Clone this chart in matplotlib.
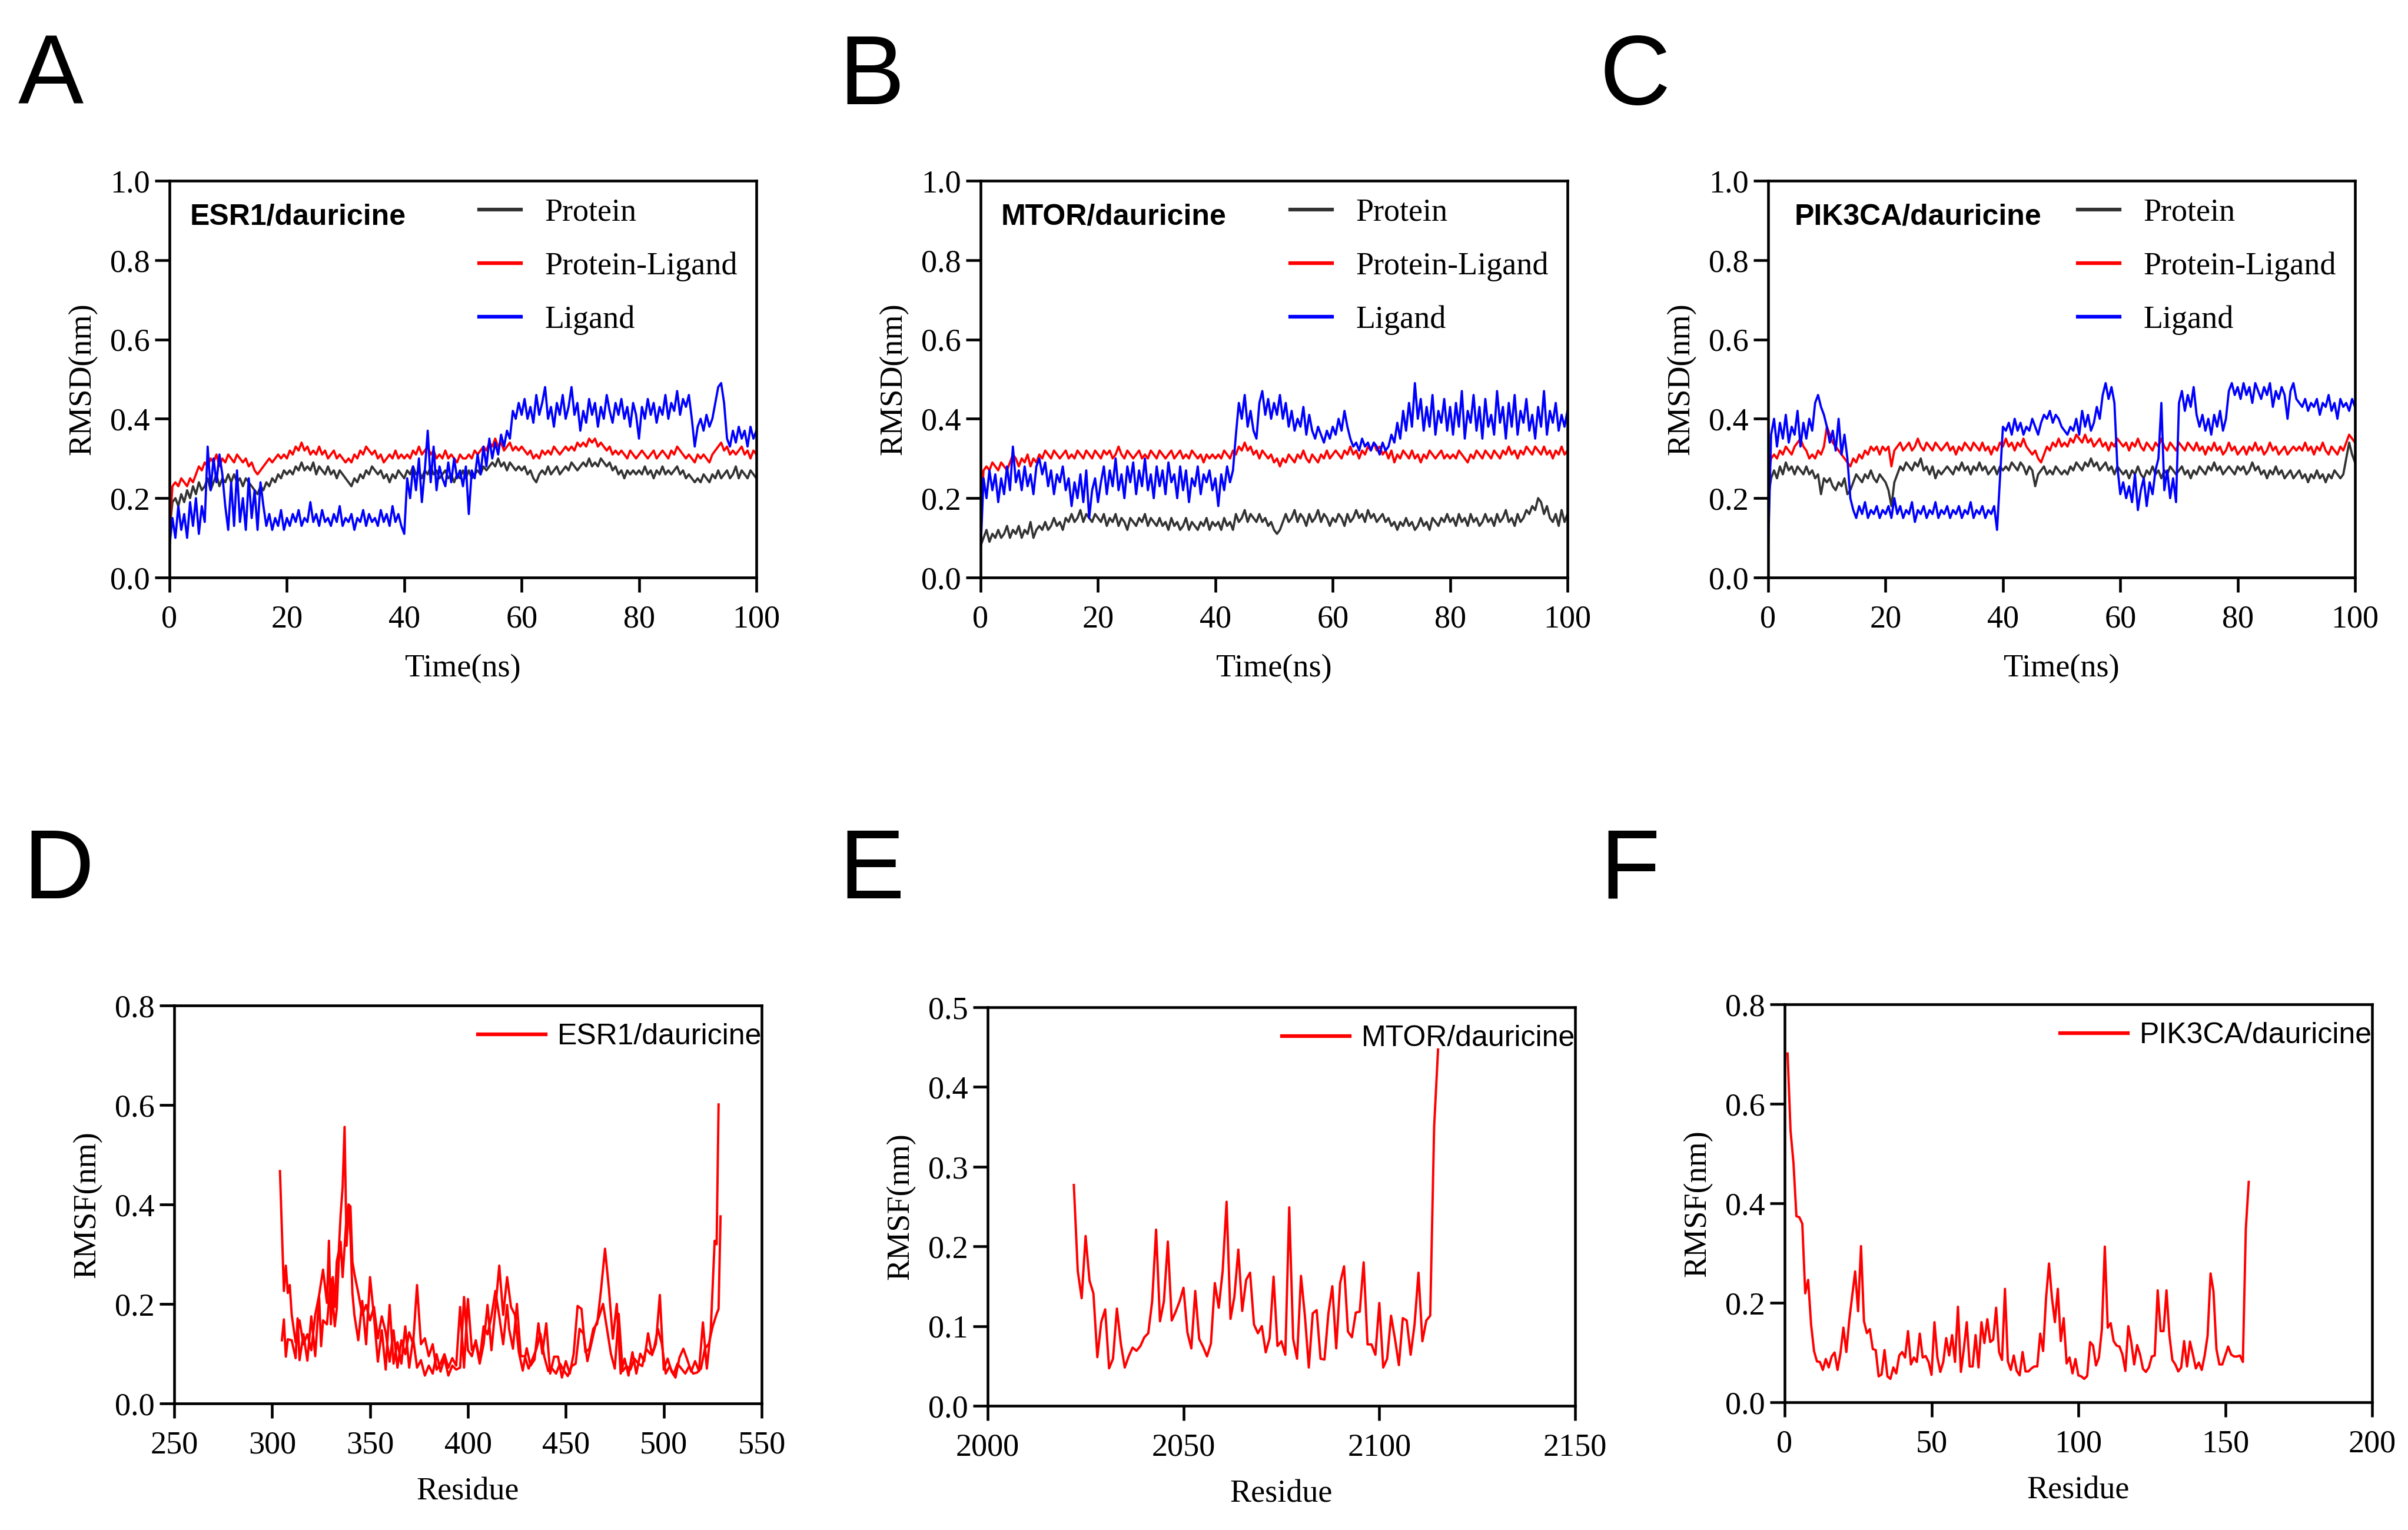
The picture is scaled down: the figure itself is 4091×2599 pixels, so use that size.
import numpy as np
import matplotlib
matplotlib.use("Agg")
import matplotlib.pyplot as plt
from matplotlib.lines import Line2D
from matplotlib.ticker import FormatStrFormatter, MultipleLocator

plt.rcParams['font.family'] = ['Liberation Serif', 'DejaVu Serif']

# ---------------- RMSD data (0.5 ns sampling, 0-100 ns) ----------------
esr1_protein = [0.12,0.19,0.20,0.18,0.21,0.19,0.22,0.20,0.23,0.21,0.24,0.22,0.23,0.25,0.22,0.24,0.26,0.23,0.25,0.24,0.26,
    0.24,0.26,0.24,0.25,0.23,0.25,0.24,0.23,0.22,0.21,0.23,0.22,0.24,0.23,0.25,0.24,0.26,0.25,0.27,0.26,
    0.27,0.26,0.28,0.27,0.29,0.27,0.28,0.27,0.29,0.26,0.28,0.27,0.26,0.28,0.26,0.27,0.25,0.27,0.26,0.25,
    0.24,0.23,0.25,0.24,0.26,0.25,0.27,0.26,0.28,0.27,0.26,0.27,0.25,0.26,0.24,0.26,0.25,0.27,0.26,0.25,
    0.27,0.26,0.28,0.26,0.27,0.25,0.27,0.26,0.28,0.26,0.27,0.25,0.26,0.27,0.25,0.26,0.24,0.26,0.25,0.27,
    0.25,0.27,0.25,0.26,0.27,0.26,0.28,0.27,0.28,0.29,0.28,0.30,0.28,0.29,0.27,0.29,0.28,0.27,0.28,0.27,
    0.28,0.26,0.27,0.25,0.24,0.26,0.27,0.26,0.28,0.26,0.27,0.28,0.26,0.27,0.28,0.27,0.29,0.28,0.27,0.28,
    0.29,0.28,0.30,0.28,0.29,0.28,0.30,0.29,0.28,0.29,0.27,0.28,0.26,0.27,0.25,0.27,0.26,0.27,0.26,0.27,
    0.26,0.28,0.26,0.27,0.25,0.27,0.26,0.28,0.26,0.27,0.26,0.27,0.28,0.26,0.27,0.25,0.26,0.25,0.24,0.25,
    0.24,0.26,0.25,0.24,0.26,0.25,0.27,0.25,0.26,0.27,0.25,0.26,0.28,0.25,0.27,0.26,0.25,0.27,0.26,0.25]
esr1_complex = [0.12,0.23,0.24,0.23,0.25,0.24,0.23,0.25,0.24,0.26,0.28,0.27,0.29,0.28,0.30,0.29,0.31,0.28,0.30,0.29,0.31,
    0.30,0.29,0.31,0.30,0.29,0.30,0.28,0.29,0.27,0.26,0.27,0.28,0.29,0.30,0.29,0.30,0.31,0.30,0.31,0.30,
    0.32,0.31,0.33,0.32,0.34,0.32,0.33,0.31,0.32,0.31,0.33,0.31,0.32,0.30,0.31,0.32,0.30,0.31,0.30,0.29,
    0.30,0.29,0.31,0.30,0.32,0.31,0.33,0.32,0.31,0.32,0.30,0.31,0.29,0.30,0.31,0.30,0.32,0.30,0.31,0.30,
    0.31,0.30,0.32,0.31,0.33,0.31,0.32,0.33,0.31,0.32,0.30,0.31,0.30,0.32,0.30,0.31,0.30,0.29,0.31,0.30,
    0.30,0.31,0.30,0.32,0.31,0.32,0.33,0.32,0.34,0.33,0.35,0.33,0.34,0.32,0.33,0.34,0.32,0.33,0.32,0.33,
    0.32,0.31,0.32,0.30,0.31,0.30,0.32,0.31,0.32,0.31,0.33,0.32,0.31,0.32,0.33,0.32,0.33,0.32,0.34,0.33,
    0.34,0.33,0.35,0.34,0.35,0.33,0.34,0.33,0.32,0.33,0.31,0.32,0.31,0.32,0.31,0.30,0.32,0.31,0.30,0.31,
    0.32,0.31,0.30,0.31,0.32,0.30,0.31,0.32,0.31,0.30,0.32,0.31,0.33,0.32,0.31,0.30,0.31,0.30,0.29,0.31,
    0.30,0.31,0.30,0.29,0.31,0.32,0.33,0.34,0.32,0.33,0.31,0.32,0.31,0.32,0.33,0.31,0.32,0.30,0.32,0.31]
esr1_ligand = [0.08,0.15,0.10,0.18,0.12,0.16,0.10,0.19,0.13,0.20,0.11,0.18,0.14,0.33,0.22,0.30,0.24,0.31,0.26,0.18,0.12,
    0.24,0.13,0.27,0.14,0.20,0.12,0.25,0.15,0.22,0.12,0.24,0.18,0.13,0.16,0.12,0.15,0.13,0.17,0.12,0.15,
    0.13,0.16,0.14,0.17,0.13,0.15,0.14,0.19,0.14,0.16,0.13,0.17,0.14,0.15,0.13,0.16,0.14,0.18,0.13,0.15,
    0.14,0.16,0.12,0.15,0.14,0.17,0.13,0.16,0.14,0.15,0.13,0.17,0.14,0.16,0.13,0.18,0.14,0.16,0.13,0.11,
    0.25,0.20,0.28,0.22,0.30,0.19,0.27,0.37,0.24,0.33,0.22,0.28,0.25,0.23,0.29,0.24,0.30,0.25,0.27,0.23,
    0.28,0.16,0.27,0.25,0.31,0.26,0.33,0.28,0.35,0.30,0.34,0.31,0.36,0.33,0.37,0.35,0.42,0.40,0.44,0.41,
    0.45,0.40,0.43,0.39,0.46,0.41,0.44,0.48,0.40,0.43,0.38,0.44,0.41,0.46,0.40,0.43,0.48,0.41,0.44,0.37,
    0.42,0.39,0.45,0.41,0.44,0.38,0.43,0.40,0.46,0.42,0.39,0.44,0.41,0.45,0.40,0.43,0.38,0.44,0.41,0.35,
    0.43,0.40,0.45,0.41,0.44,0.39,0.43,0.41,0.46,0.40,0.44,0.42,0.47,0.41,0.45,0.43,0.46,0.40,0.33,0.38,
    0.40,0.37,0.41,0.38,0.40,0.44,0.48,0.49,0.44,0.35,0.33,0.37,0.34,0.38,0.35,0.37,0.33,0.38,0.35,0.37]

mtor_protein = [0.08,0.10,0.12,0.09,0.11,0.10,0.12,0.10,0.11,0.13,0.10,0.12,0.11,0.13,0.10,0.12,0.11,0.14,0.10,0.12,0.13,
    0.12,0.14,0.12,0.13,0.15,0.13,0.14,0.12,0.15,0.14,0.16,0.14,0.15,0.17,0.14,0.16,0.15,0.14,0.16,0.15,
    0.14,0.16,0.13,0.15,0.14,0.16,0.13,0.15,0.14,0.12,0.15,0.14,0.13,0.15,0.14,0.16,0.13,0.15,0.14,0.13,
    0.15,0.13,0.14,0.12,0.15,0.13,0.14,0.12,0.13,0.15,0.12,0.14,0.13,0.12,0.14,0.13,0.15,0.12,0.14,0.13,
    0.14,0.12,0.15,0.13,0.14,0.12,0.16,0.14,0.15,0.17,0.14,0.16,0.15,0.14,0.16,0.14,0.15,0.13,0.14,0.12,
    0.11,0.12,0.14,0.16,0.14,0.15,0.17,0.14,0.16,0.15,0.13,0.16,0.14,0.15,0.17,0.14,0.16,0.15,0.13,0.15,
    0.14,0.16,0.15,0.13,0.16,0.14,0.15,0.17,0.15,0.16,0.14,0.17,0.15,0.16,0.14,0.15,0.16,0.14,0.15,0.13,
    0.14,0.12,0.14,0.13,0.15,0.13,0.14,0.12,0.13,0.15,0.13,0.14,0.12,0.15,0.14,0.13,0.15,0.14,0.16,0.14,
    0.15,0.13,0.16,0.14,0.15,0.13,0.16,0.14,0.15,0.13,0.14,0.16,0.14,0.15,0.13,0.16,0.14,0.15,0.17,0.14,
    0.15,0.13,0.16,0.14,0.15,0.17,0.16,0.18,0.17,0.20,0.19,0.16,0.18,0.15,0.14,0.16,0.13,0.17,0.14,0.16]
mtor_complex = [0.15,0.27,0.28,0.27,0.29,0.28,0.27,0.29,0.28,0.27,0.29,0.31,0.30,0.28,0.30,0.29,0.31,0.28,0.30,0.29,0.31,
    0.30,0.32,0.31,0.30,0.32,0.31,0.30,0.31,0.32,0.30,0.31,0.30,0.32,0.31,0.30,0.32,0.31,0.30,0.32,0.31,
    0.30,0.32,0.31,0.32,0.30,0.31,0.33,0.31,0.30,0.32,0.31,0.30,0.31,0.32,0.30,0.31,0.30,0.32,0.31,0.30,
    0.32,0.31,0.30,0.31,0.32,0.30,0.31,0.32,0.30,0.31,0.30,0.32,0.31,0.30,0.31,0.29,0.31,0.30,0.31,0.30,
    0.31,0.30,0.32,0.31,0.30,0.32,0.31,0.33,0.32,0.34,0.32,0.33,0.31,0.32,0.30,0.32,0.31,0.30,0.31,0.29,
    0.30,0.28,0.30,0.29,0.31,0.30,0.29,0.31,0.30,0.32,0.30,0.29,0.31,0.30,0.29,0.31,0.30,0.32,0.30,0.31,
    0.32,0.31,0.30,0.32,0.31,0.33,0.31,0.32,0.30,0.32,0.31,0.33,0.32,0.34,0.32,0.33,0.31,0.32,0.30,0.32,
    0.29,0.31,0.30,0.32,0.31,0.30,0.32,0.30,0.31,0.29,0.31,0.30,0.32,0.31,0.30,0.31,0.32,0.30,0.31,0.30,
    0.31,0.30,0.32,0.31,0.30,0.29,0.31,0.30,0.32,0.31,0.30,0.32,0.31,0.30,0.32,0.31,0.30,0.32,0.31,0.33,
    0.31,0.32,0.30,0.32,0.31,0.33,0.32,0.31,0.33,0.32,0.31,0.33,0.31,0.32,0.30,0.32,0.31,0.33,0.31,0.32]
mtor_ligand = [0.07,0.25,0.20,0.27,0.22,0.26,0.19,0.25,0.21,0.28,0.22,0.33,0.24,0.27,0.22,0.28,0.23,0.26,0.21,0.28,0.30,
    0.26,0.29,0.23,0.27,0.21,0.26,0.24,0.28,0.22,0.25,0.18,0.24,0.20,0.26,0.19,0.27,0.15,0.22,0.25,0.19,
    0.24,0.28,0.21,0.27,0.23,0.30,0.22,0.26,0.20,0.28,0.24,0.29,0.21,0.27,0.23,0.30,0.22,0.26,0.20,0.28,
    0.23,0.27,0.21,0.29,0.24,0.26,0.20,0.28,0.22,0.27,0.19,0.25,0.23,0.28,0.21,0.26,0.24,0.27,0.22,0.25,
    0.18,0.26,0.22,0.28,0.24,0.27,0.36,0.44,0.40,0.46,0.38,0.42,0.37,0.35,0.44,0.47,0.41,0.45,0.40,0.44,
    0.41,0.46,0.40,0.44,0.38,0.42,0.37,0.40,0.38,0.43,0.36,0.41,0.37,0.35,0.38,0.36,0.34,0.37,0.35,0.38,
    0.36,0.40,0.37,0.42,0.38,0.35,0.33,0.34,0.32,0.35,0.33,0.34,0.32,0.34,0.33,0.31,0.34,0.32,0.33,0.36,
    0.34,0.39,0.35,0.42,0.37,0.44,0.38,0.49,0.40,0.45,0.37,0.43,0.38,0.46,0.36,0.42,0.39,0.45,0.37,0.43,
    0.36,0.44,0.38,0.47,0.35,0.42,0.39,0.46,0.37,0.43,0.35,0.45,0.38,0.41,0.36,0.47,0.39,0.43,0.35,0.44,
    0.38,0.46,0.36,0.42,0.39,0.45,0.37,0.41,0.35,0.43,0.38,0.47,0.36,0.42,0.39,0.44,0.37,0.41,0.38,0.42]

pik3ca_protein = [0.20,0.25,0.27,0.25,0.28,0.26,0.29,0.27,0.28,0.26,0.28,0.27,0.26,0.28,0.26,0.27,0.25,0.26,0.21,0.25,0.24,
    0.25,0.23,0.22,0.24,0.23,0.25,0.21,0.22,0.24,0.26,0.25,0.24,0.26,0.25,0.27,0.25,0.24,0.26,0.25,0.24,
    0.22,0.18,0.24,0.26,0.28,0.27,0.29,0.28,0.27,0.29,0.28,0.30,0.27,0.28,0.26,0.28,0.25,0.27,0.26,0.27,
    0.28,0.27,0.26,0.28,0.27,0.29,0.27,0.28,0.26,0.28,0.27,0.29,0.27,0.28,0.26,0.27,0.28,0.26,0.28,0.27,
    0.28,0.27,0.29,0.28,0.27,0.29,0.28,0.26,0.28,0.27,0.23,0.26,0.27,0.28,0.26,0.27,0.26,0.28,0.27,0.26,
    0.27,0.26,0.28,0.27,0.29,0.28,0.27,0.29,0.28,0.30,0.28,0.29,0.27,0.28,0.29,0.27,0.28,0.26,0.28,0.27,
    0.26,0.27,0.25,0.27,0.26,0.28,0.26,0.25,0.27,0.26,0.28,0.26,0.27,0.25,0.27,0.26,0.28,0.27,0.26,0.27,
    0.28,0.26,0.27,0.25,0.27,0.26,0.28,0.27,0.26,0.28,0.27,0.29,0.27,0.28,0.26,0.27,0.28,0.27,0.26,0.28,
    0.27,0.28,0.26,0.27,0.29,0.27,0.28,0.26,0.27,0.25,0.27,0.26,0.28,0.26,0.27,0.25,0.26,0.27,0.25,0.26,
    0.27,0.25,0.26,0.24,0.26,0.25,0.27,0.25,0.26,0.24,0.26,0.25,0.27,0.26,0.25,0.26,0.30,0.34,0.31,0.29]
pik3ca_complex = [0.25,0.30,0.31,0.30,0.32,0.31,0.33,0.32,0.31,0.33,0.34,0.35,0.33,0.32,0.30,0.31,0.30,0.32,0.31,0.33,0.38,
    0.36,0.34,0.33,0.32,0.31,0.30,0.29,0.28,0.30,0.29,0.31,0.30,0.32,0.31,0.33,0.32,0.33,0.31,0.33,0.32,
    0.33,0.28,0.32,0.33,0.34,0.32,0.33,0.34,0.32,0.33,0.35,0.33,0.32,0.34,0.33,0.32,0.34,0.33,0.32,0.33,
    0.34,0.32,0.33,0.31,0.33,0.32,0.34,0.33,0.32,0.34,0.33,0.32,0.34,0.32,0.33,0.31,0.33,0.32,0.34,0.33,
    0.35,0.33,0.34,0.32,0.34,0.33,0.35,0.33,0.32,0.31,0.32,0.30,0.29,0.31,0.33,0.32,0.34,0.33,0.35,0.33,
    0.34,0.33,0.35,0.34,0.36,0.35,0.34,0.36,0.34,0.35,0.33,0.34,0.35,0.33,0.34,0.32,0.34,0.33,0.35,0.34,
    0.33,0.34,0.32,0.34,0.33,0.35,0.33,0.32,0.34,0.33,0.32,0.34,0.33,0.35,0.33,0.32,0.34,0.33,0.32,0.34,
    0.33,0.32,0.34,0.33,0.32,0.34,0.32,0.33,0.31,0.33,0.32,0.34,0.32,0.33,0.31,0.32,0.34,0.32,0.33,0.31,
    0.32,0.33,0.31,0.33,0.32,0.34,0.32,0.33,0.31,0.32,0.34,0.32,0.33,0.31,0.32,0.33,0.31,0.32,0.33,0.32,
    0.33,0.32,0.34,0.32,0.33,0.31,0.33,0.32,0.34,0.32,0.31,0.33,0.32,0.31,0.33,0.32,0.34,0.36,0.35,0.34]
pik3ca_ligand = [0.07,0.36,0.40,0.33,0.39,0.35,0.41,0.34,0.38,0.36,0.42,0.33,0.39,0.35,0.40,0.37,0.44,0.46,0.43,0.41,0.38,
    0.34,0.37,0.32,0.40,0.31,0.36,0.30,0.20,0.17,0.15,0.18,0.16,0.19,0.15,0.17,0.16,0.18,0.15,0.17,0.16,
    0.18,0.15,0.20,0.16,0.18,0.15,0.17,0.16,0.19,0.14,0.17,0.16,0.18,0.15,0.17,0.16,0.19,0.15,0.17,0.16,
    0.18,0.15,0.17,0.16,0.18,0.15,0.17,0.16,0.19,0.15,0.17,0.16,0.18,0.15,0.17,0.16,0.18,0.12,0.25,0.38,
    0.37,0.39,0.36,0.40,0.37,0.39,0.36,0.38,0.37,0.40,0.38,0.36,0.39,0.41,0.40,0.42,0.39,0.41,0.40,0.38,
    0.37,0.36,0.38,0.37,0.40,0.36,0.42,0.38,0.41,0.37,0.39,0.43,0.40,0.46,0.49,0.45,0.48,0.44,0.28,0.21,
    0.24,0.20,0.23,0.19,0.26,0.17,0.22,0.25,0.18,0.24,0.21,0.27,0.30,0.44,0.22,0.27,0.20,0.25,0.19,0.44,
    0.47,0.42,0.46,0.43,0.48,0.41,0.38,0.41,0.37,0.40,0.36,0.41,0.38,0.42,0.37,0.40,0.47,0.49,0.46,0.48,
    0.45,0.49,0.46,0.48,0.44,0.49,0.47,0.45,0.48,0.46,0.49,0.43,0.47,0.45,0.48,0.46,0.40,0.47,0.49,0.45,
    0.44,0.43,0.45,0.42,0.44,0.43,0.45,0.41,0.44,0.43,0.46,0.42,0.44,0.40,0.45,0.43,0.44,0.42,0.45,0.43]

rmsd_titles = ["ESR1/dauricine", "MTOR/dauricine", "PIK3CA/dauricine"]
rmsd_labels = ["Protein", "Protein-Ligand", "Ligand"]

# ---------------- RMSF data ----------------
esr1_res_a = [304,306,307,308,309,310,312,314,316,318,320,322,324,326,328,329,330,331,332,333,334,335,336,337,338,339,340,341] \
    + list(range(342, 527, 2)) + [527, 528]
esr1_rmsf_a = [0.467,0.226,0.277,0.222,0.238,0.178,0.123,0.167,0.119,0.139,0.107,0.178,0.218,0.269,0.202,0.327,0.159,0.254,
    0.194,0.285,0.305,0.380,0.435,0.556,0.317,0.400,0.396,0.285,
    0.261,0.222,0.178,0.198,0.167,0.194,0.131,0.175,0.143,0.084,0.147,0.072,0.127,0.099,0.143,0.119,0.238,0.119,0.131,0.095,
    0.119,0.068,0.080,0.099,0.072,0.091,0.076,0.194,0.072,0.210,0.107,0.123,0.080,0.119,0.198,0.107,0.190,0.277,0.178,0.254,
    0.194,0.178,0.103,0.066,0.111,0.076,0.088,0.161,0.100,0.161,0.060,0.094,0.094,0.052,0.085,0.060,0.100,0.196,0.190,0.103,
    0.110,0.150,0.160,0.230,0.311,0.230,0.130,0.200,0.060,0.090,0.056,0.103,0.060,0.100,0.085,0.141,0.097,0.120,0.218,0.068,
    0.090,0.064,0.052,0.092,0.110,0.088,0.064,0.085,0.065,0.163,0.070,0.147,0.327,0.320,0.601]
esr1_res_b = [305,306,307,308,310,312,313,314,316,318,320,322,324,325,326,328,330,332,333,334,335,336,338,339,340,341] \
    + list(range(342, 421, 2)) + list(range(421, 528, 2)) + [528, 529]
esr1_rmsf_b = [0.127,0.169,0.094,0.129,0.127,0.091,0.171,0.087,0.139,0.086,0.175,0.095,0.214,0.115,0.167,0.159,0.250,0.155,
    0.190,0.285,0.325,0.254,0.376,0.388,0.337,0.222,
    0.178,0.127,0.206,0.119,0.254,0.175,0.084,0.147,0.068,0.198,0.080,0.123,0.080,0.155,0.072,0.131,0.072,0.087,0.056,0.076,
    0.060,0.099,0.064,0.091,0.056,0.076,0.068,0.072,0.214,0.107,0.095,0.127,0.087,0.155,0.139,0.175,0.226,0.175,0.119,0.198,
    0.150,0.110,0.200,0.095,0.095,0.070,0.090,0.110,0.140,0.094,0.065,0.070,0.060,0.080,0.066,0.055,0.075,0.080,0.150,0.140,
    0.085,0.120,0.155,0.175,0.200,0.150,0.100,0.070,0.180,0.065,0.075,0.068,0.090,0.080,0.075,0.110,0.100,0.110,0.150,0.120,
    0.060,0.075,0.058,0.080,0.070,0.060,0.075,0.060,0.062,0.070,0.110,0.120,0.155,0.180,0.190,0.376]

mtor_res = list(range(2022, 2116))
mtor_rmsf = [0.277,0.169,0.135,0.213,0.157,0.141,0.061,0.105,0.121,0.047,0.059,0.122,0.078,0.048,0.062,0.073,0.069,0.075,
    0.086,0.091,0.131,0.221,0.106,0.131,0.206,0.107,0.118,0.131,0.148,0.092,0.072,0.144,0.084,0.074,0.062,0.078,0.154,0.123,
    0.169,0.256,0.109,0.137,0.196,0.119,0.158,0.167,0.102,0.091,0.100,0.067,0.085,0.162,0.075,0.081,0.064,0.249,0.084,0.059,
    0.163,0.113,0.048,0.116,0.120,0.059,0.058,0.116,0.150,0.072,0.154,0.175,0.093,0.086,0.117,0.118,0.180,0.077,0.077,0.064,
    0.129,0.048,0.059,0.113,0.084,0.051,0.110,0.107,0.064,0.102,0.167,0.081,0.107,0.113,0.350,0.447]

pik3ca_res = list(range(1, 159))
pik3ca_rmsf = [0.701,0.546,0.481,0.374,0.372,0.359,0.219,0.246,0.156,0.103,0.082,0.081,0.065,0.087,0.070,0.092,0.100,0.065,
    0.099,0.150,0.101,0.165,0.214,0.263,0.183,0.314,0.163,0.139,0.147,0.107,0.105,0.052,0.056,0.105,0.052,0.047,0.070,0.058,
    0.094,0.101,0.090,0.143,0.076,0.090,0.081,0.138,0.090,0.093,0.081,0.055,0.161,0.090,0.061,0.081,0.129,0.094,0.135,0.081,
    0.192,0.061,0.107,0.161,0.072,0.072,0.135,0.070,0.161,0.119,0.167,0.121,0.126,0.190,0.101,0.085,0.228,0.082,0.065,0.094,
    0.063,0.054,0.101,0.062,0.062,0.068,0.072,0.072,0.138,0.103,0.210,0.279,0.210,0.161,0.228,0.123,0.169,0.078,0.090,0.058,
    0.087,0.054,0.052,0.047,0.053,0.121,0.114,0.074,0.090,0.147,0.313,0.150,0.159,0.123,0.114,0.112,0.096,0.063,0.153,0.121,
    0.076,0.115,0.096,0.067,0.061,0.070,0.092,0.094,0.225,0.143,0.143,0.225,0.134,0.085,0.076,0.062,0.070,0.123,0.072,0.122,
    0.096,0.068,0.080,0.065,0.094,0.134,0.259,0.223,0.107,0.076,0.076,0.094,0.112,0.096,0.092,0.092,0.094,0.081,0.348,0.443]

rmsf_titles = ["ESR1/dauricine", "MTOR/dauricine", "PIK3CA/dauricine"]

# ---------------- figure ----------------
W, H = 4091, 2599
fig = plt.figure(figsize=(W / 300, H / 300), dpi=300)

def frac_box(l, t, r, b):
    return [l / W, 1 - b / H, (r - l) / W, (b - t) / H]

top_boxes = [frac_box(288, 307, 1285, 981), frac_box(1666, 307, 2663, 981), frac_box(3004, 307, 4001, 981)]
bot_boxes = [frac_box(296, 1708, 1294, 2384), frac_box(1678, 1711, 2676, 2388), frac_box(3032, 1706, 4030, 2382)]

C_PROT = '#333333'
C_CPLX = '#ff0000'
C_LIG = '#0000ff'
SANS = ['Liberation Sans', 'DejaVu Sans']
SERIF = ['Liberation Serif', 'DejaVu Serif']

def style_axes(ax):
    for sp in ax.spines.values():
        sp.set_linewidth(1.1)
        sp.set_color('black')
    ax.tick_params(axis='both', which='major', direction='out', length=6, width=1.1,
                   labelsize=13, colors='black', labelfontfamily='Liberation Serif')
    ax.tick_params(axis='y', pad=2)
    ax.tick_params(axis='x', pad=5)

rmsd_sets = [
    (esr1_protein, esr1_complex, esr1_ligand),
    (mtor_protein, mtor_complex, mtor_ligand),
    (pik3ca_protein, pik3ca_complex, pik3ca_ligand),
]
title_x = [0.035, 0.035, 0.045]
for i, (box, series) in enumerate(zip(top_boxes, rmsd_sets)):
    ax = fig.add_axes(box)
    for s, c in zip(series, [C_PROT, C_CPLX, C_LIG]):
        t = np.linspace(0, 100, len(s))
        ax.plot(t, s, color=c, lw=0.9)
    ax.set_xlim(0, 100)
    ax.set_ylim(0, 1.0)
    ax.xaxis.set_major_locator(MultipleLocator(20))
    ax.yaxis.set_major_locator(MultipleLocator(0.2))
    ax.yaxis.set_major_formatter(FormatStrFormatter('%.1f'))
    style_axes(ax)
    ax.set_xlabel('Time(ns)', fontsize=13, family=SERIF, labelpad=8)
    ax.set_ylabel('RMSD(nm)', fontsize=13, family=SERIF, labelpad=5)
    ax.text(title_x[i], 0.909, rmsd_titles[i], transform=ax.transAxes, fontsize=12,
            fontweight='bold', family=SANS, va='center', ha='left')
    handles = [Line2D([], [], color=c, lw=1.5) for c in [C_PROT, C_CPLX, C_LIG]]
    ax.legend(handles, rmsd_labels, loc='upper left', bbox_to_anchor=(0.528, 0.957),
              frameon=False, borderpad=0, borderaxespad=0, handlelength=1.3,
              handletextpad=0.75, labelspacing=0.75, prop={'family': SERIF, 'size': 13})

# RMSF panels
rmsf_cfg = [
    dict(xlim=(250, 550), xstep=50, ylim=(0, 0.8), ystep=0.2),
    dict(xlim=(2000, 2150), xstep=50, ylim=(0, 0.5), ystep=0.1),
    dict(xlim=(0, 200), xstep=50, ylim=(0, 0.8), ystep=0.2),
]
rmsf_traces = [
    [(esr1_res_a, esr1_rmsf_a), (esr1_res_b, esr1_rmsf_b)],
    [(mtor_res, mtor_rmsf)],
    [(pik3ca_res, pik3ca_rmsf)],
]
for i, (box, cfg, traces) in enumerate(zip(bot_boxes, rmsf_cfg, rmsf_traces)):
    ax = fig.add_axes(box)
    for k, (xr, yv) in enumerate(traces):
        ax.plot(xr, yv, color=C_CPLX, lw=0.95)
    ax.set_xlim(*cfg['xlim'])
    ax.set_ylim(*cfg['ylim'])
    ax.xaxis.set_major_locator(MultipleLocator(cfg['xstep']))
    ax.yaxis.set_major_locator(MultipleLocator(cfg['ystep']))
    ax.yaxis.set_major_formatter(FormatStrFormatter('%.1f'))
    style_axes(ax)
    ax.set_xlabel('Residue', fontsize=13, family=SERIF, labelpad=7)
    ax.set_ylabel('RMSF(nm)', fontsize=13, family=SERIF, labelpad=5)
    h = [Line2D([], [], color=C_CPLX, lw=1.5)]
    ax.legend(h, [rmsf_titles[i]], loc='upper right', bbox_to_anchor=(1.0, 0.955),
              frameon=False, borderpad=0, borderaxespad=0, handlelength=2.3,
              handletextpad=0.4, prop={'family': SANS, 'size': 12})

# panel letters
letters = [('A', 31, 177), ('B', 1425, 177), ('C', 2718, 177),
           ('D', 39, 1526), ('E', 1425, 1526), ('F', 2718, 1526)]
for ch, x, y in letters:
    fig.text(x / W, 1 - y / H, ch, fontsize=40, family=SANS, ha='left', va='baseline')

fig.savefig('out.png', dpi=300)
